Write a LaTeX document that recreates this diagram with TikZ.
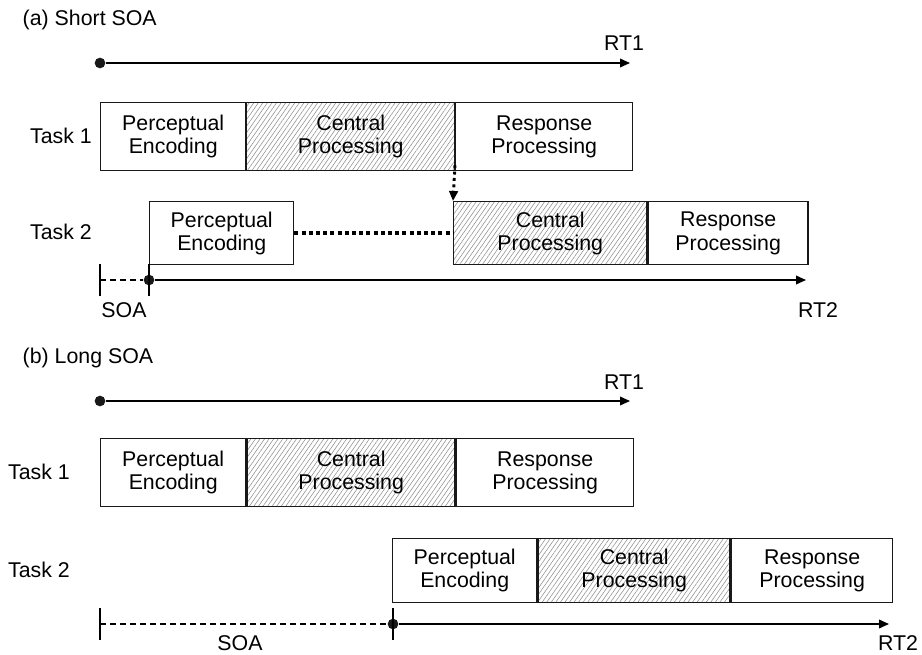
\documentclass[tikz,border=0pt]{standalone}
\usepackage{fontspec}
\setmainfont{Liberation Sans}
\usetikzlibrary{arrows.meta,patterns.meta}

\tikzset{every picture/.style={line width=1.1pt}}
\tikzset{
  box/.style={draw=black!90, rectangle, anchor=north west, inner sep=0pt, align=center},
  hatch/.style={box, pattern={Lines[angle=55,distance=2.8pt,line width=0.4pt]}, pattern color=black!45},
  lbl/.style={inner sep=0pt},
  dot/.style={circle, fill=black!90, inner sep=0pt, minimum size=8pt},
  arr/.style={-{Triangle[length=7.5pt,width=6.5pt]}},
  soadash/.style={line width=0.8pt, dash pattern=on 4.5pt off 3pt},
  waitline/.style={line width=3pt, dash pattern=on 3pt off 2.4pt},
  waitarrow/.style={line width=2.2pt, dash pattern=on 2.2pt off 2.6pt},
}

\begin{document}
\begin{tikzpicture}[x=0.75pt,y=0.75pt,yscale=-1,xscale=1,font=\fontsize{16}{17.5}\selectfont]
\useasboundingbox (0,0) rectangle (922,654);

%Text: panel (a)
\node[lbl, anchor=west] (capa) at (22,20) {(a) Short SOA};
%Straight Lines: RT1
\node[dot] (sa) at (100,63) {};
\coordinate (ea) at (630,63);
\draw[arr] (sa) -- (ea);
\node[lbl] (rt1a) at (624,43) {RT1};

%Shape: Task 1 chain
\node[lbl] (t1a) at (61,136) {Task 1};
\node[box, minimum width=108.75pt, minimum height=51pt] (pe1) at (100,102) {Perceptual\\Encoding};
\node[hatch, minimum width=156pt, minimum height=51pt] (cp1) at (pe1.north east) {Central\\Processing};
\node[box, minimum width=132.75pt, minimum height=51pt] (rp1) at (cp1.north east) {Response\\Processing};

%Shape: Task 2 chain
\node[lbl] (t2a) at (61,232) {Task 2};
\node[box, minimum width=108pt, minimum height=47.25pt] (pe2) at (149,201) {Perceptual\\Encoding};
\node[hatch, minimum width=144.75pt, minimum height=47.25pt] (cp2) at (453,201) {Central\\Processing};
\node[box, minimum width=120pt, minimum height=47.25pt] (rp2) at (cp2.north east) {Response\\Processing};

%Straight Lines: waiting
\draw[waitline] (pe2.east) -- (cp2.west);
\draw[waitarrow, arr] ([yshift=-4pt]cp1.south east) -- (cp2.north west);

%Straight Lines: RT2 and SOA
\coordinate (ka) at (100,280);
\node[dot] (da) at (149,280) {};
\coordinate (fa) at (806,280);
\draw[soadash] (ka) -- (da);
\draw ([yshift=12pt]ka) -- ([yshift=-12pt]ka);
\draw ([yshift=12pt]da.center) -- ([yshift=-12pt]da.center);
\draw[arr] (da) -- (fa);
\node[lbl] (soaa) at (124,310) {SOA};
\node[lbl] (rt2a) at (818,310) {RT2};

%Text: panel (b)
\node[lbl, anchor=west] (capb) at (22,358) {(b) Long SOA};
%Straight Lines: RT1
\node[dot] (sb) at (100,401) {};
\coordinate (eb) at (630,401);
\draw[arr] (sb) -- (eb);
\node[lbl] (rt1b) at (624,382) {RT1};

%Shape: Task 1 chain
\node[lbl] (t1b) at (39,472) {Task 1};
\node[box, minimum width=108.75pt, minimum height=51pt] (pe3) at (100,438) {Perceptual\\Encoding};
\node[hatch, minimum width=156pt, minimum height=51pt] (cp3) at (pe3.north east) {Central\\Processing};
\node[box, minimum width=132.75pt, minimum height=51pt] (rp3) at (cp3.north east) {Response\\Processing};

%Shape: Task 2 chain
\node[lbl] (t2b) at (39,570) {Task 2};
\node[box, minimum width=108pt, minimum height=48pt] (pe4) at (392,538) {Perceptual\\Encoding};
\node[hatch, minimum width=144pt, minimum height=48pt] (cp4) at (pe4.north east) {Central\\Processing};
\node[box, minimum width=120.75pt, minimum height=48pt] (rp4) at (cp4.north east) {Response\\Processing};

%Straight Lines: RT2 and SOA
\coordinate (kb) at (100,624);
\node[dot] (db) at (393,624) {};
\coordinate (fb) at (889,624);
\draw[soadash] (kb) -- (db);
\draw ([yshift=12pt]kb) -- ([yshift=-12pt]kb);
\draw ([yshift=12pt]db.center) -- ([yshift=-12pt]db.center);
\draw[arr] (db) -- (fb);
\node[lbl] (soab) at (240,643) {SOA};
\node[lbl] (rt2b) at (898,643) {RT2};

\end{tikzpicture}
\end{document}
